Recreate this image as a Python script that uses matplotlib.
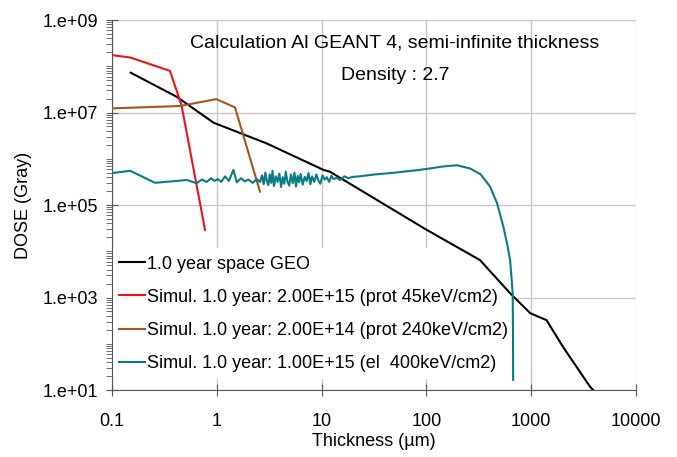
import numpy as np
import matplotlib
matplotlib.use('Agg')
import matplotlib.pyplot as plt
from matplotlib.ticker import FixedLocator, LogLocator, FuncFormatter, NullFormatter

plt.rcParams['font.family'] = ['Liberation Sans', 'DejaVu Sans']

# 1.0 year space GEO (thickness um, log10 dose)
geo_x = [0.151, 0.414, 0.93, 3.0, 10.4, 12, 36, 101, 324, 630, 980, 1400, 2000, 3640, 3900]
geo_y = [7.86, 7.34, 6.78, 6.33, 5.76, 5.72, 5.07, 4.46, 3.81, 3.09, 2.66, 2.51, 1.94, 1.07, 1.0]

# protons 45 keV
p45_x = [0.1, 0.149, 0.357, 0.46, 0.74, 0.77]
p45_y = [8.24, 8.19, 7.90, 7.16, 4.68, 4.46]

# protons 240 keV
p240_x = [0.1, 0.445, 0.99, 1.49, 2.58]
p240_y = [7.09, 7.14, 7.29, 7.11, 5.29]

# electrons 400 keV
el_x = [0.1, 0.149, 0.257, 0.52, 0.64, 0.72, 0.8, 0.88, 0.95, 1.02, 1.1, 1.2, 1.3, 1.44, 1.55,
        1.7, 1.85, 2.0, 2.2, 2.4, 2.58,
        2.7, 2.8, 2.9, 3.0, 3.1, 3.2, 3.3, 3.4, 3.5, 3.65, 3.8, 3.95, 4.1, 4.25, 4.4, 4.55,
        4.7, 4.9, 5.1, 5.3, 5.5, 5.7, 5.9, 6.1, 6.3, 6.6, 6.9, 7.2, 7.5, 7.8, 8.1, 8.5, 8.9,
        9.3, 9.7, 10.2, 10.7, 11.2, 11.8, 12.4, 13, 14, 15, 16.5, 18, 20, 23, 27, 32, 40,
        50, 65, 80, 108, 140, 195, 261, 330, 404, 470, 542, 590, 628, 650, 665, 670, 672]
el_y = [5.69, 5.74, 5.48, 5.54, 5.47, 5.55, 5.50, 5.58, 5.52, 5.56, 5.50, 5.62, 5.52, 5.76, 5.49,
        5.58, 5.51, 5.55, 5.48, 5.56, 5.50,
        5.64, 5.45, 5.70, 5.52, 5.43, 5.66, 5.48, 5.74, 5.41, 5.62, 5.50, 5.68, 5.39, 5.60, 5.46,
        5.72, 5.52, 5.42, 5.66, 5.47, 5.70, 5.40, 5.63, 5.49, 5.67, 5.44, 5.61, 5.52, 5.69, 5.45,
        5.62, 5.50, 5.66, 5.53, 5.46, 5.64, 5.55, 5.60, 5.50, 5.63, 5.56, 5.59, 5.54, 5.62, 5.58,
        5.61, 5.62, 5.64, 5.66, 5.68, 5.70, 5.73, 5.75, 5.79, 5.83, 5.86, 5.79, 5.66, 5.40, 5.05,
        4.53, 4.15, 3.81, 3.40, 3.09, 2.2, 1.22]

labels = ['1.0 year space GEO',
          'Simul. 1.0 year: 2.00E+15 (prot 45keV/cm2)',
          'Simul. 1.0 year: 2.00E+14 (prot 240keV/cm2)',
          'Simul. 1.0 year: 1.00E+15 (el  400keV/cm2)']

fig = plt.figure(figsize=(6.77, 4.57), dpi=100)
ax = fig.add_axes([0.1655, 0.1466, 0.774, 0.8096])

ax.plot(geo_x, 10 ** np.array(geo_y), color='black', lw=1.5, label=labels[0], zorder=3)
ax.plot(p45_x, 10 ** np.array(p45_y), color='#e8141a', lw=1.5, label=labels[1], zorder=3)
ax.plot(p240_x, 10 ** np.array(p240_y), color='#a8531c', lw=1.5, label=labels[2], zorder=3)
ax.plot(el_x, 10 ** np.array(el_y), color='#0a7a85', lw=1.5, label=labels[3], zorder=3)

ax.set_xscale('log')
ax.set_yscale('log')
ax.set_xlim(0.1, 10000)
ax.set_ylim(10, 1e9)

ax.yaxis.set_major_locator(FixedLocator([1e1, 1e3, 1e5, 1e7, 1e9]))
ax.yaxis.set_minor_locator(LogLocator(base=10, subs=np.arange(1, 10), numticks=30))
ax.yaxis.set_minor_formatter(NullFormatter())
ax.yaxis.set_major_formatter(FuncFormatter(lambda v, p: '1.e+%02d' % int(round(np.log10(v)))))
ax.xaxis.set_major_locator(FixedLocator([0.1, 1, 10, 100, 1000, 10000]))
ax.xaxis.set_minor_locator(FixedLocator([]))
ax.xaxis.set_major_formatter(FuncFormatter(lambda v, p: '%g' % v))

ax.grid(True, which='major', color='#c8c8c8', lw=1)
ax.set_axisbelow(True)
for s in ['top', 'right']:
    ax.spines[s].set_visible(False)
for s in ['left', 'bottom']:
    ax.spines[s].set_color('#555555')
ax.tick_params(axis='both', which='major', direction='inout', length=8, color='#555555',
               labelsize=13, pad=6)
ax.tick_params(axis='x', which='major', pad=12.5)
ax.tick_params(axis='y', which='minor', direction='out', length=4, color='#555555')

ax.set_xlabel('Thickness (µm)', fontsize=13, labelpad=2.5)
ax.set_ylabel('DOSE (Gray)', fontsize=13, labelpad=7.5)

ax.text(0.54, 0.937, 'Calculation Al GEANT 4, semi-infinite thickness', transform=ax.transAxes,
        ha='center', va='center', fontsize=14)
ax.text(0.54, 0.85, 'Density : 2.7', transform=ax.transAxes, ha='center', va='center', fontsize=14)

leg = ax.legend(loc='upper left', bbox_to_anchor=(0.0, 0.383), frameon=True, fontsize=13,
                handlelength=1.4, handletextpad=0.15, labelspacing=0.9, borderaxespad=0.0)
leg.get_frame().set_edgecolor('none')
leg.get_frame().set_facecolor('white')
leg.get_frame().set_alpha(1)
leg.set_zorder(2)

fig.savefig('out.png', dpi=100)
